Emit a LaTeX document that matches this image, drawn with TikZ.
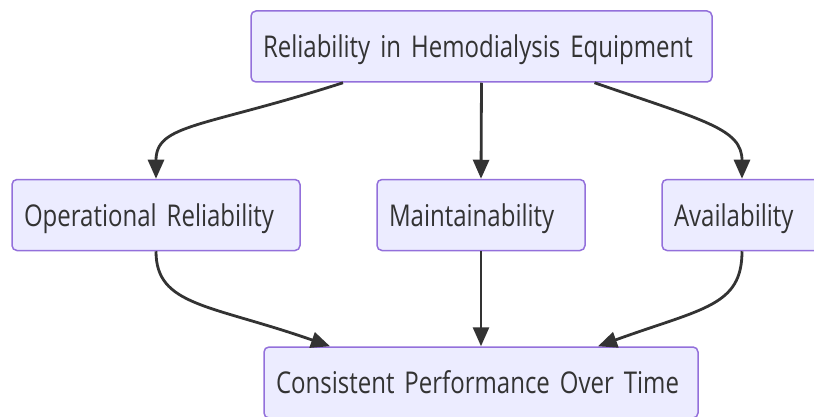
\documentclass[tikz,border=0pt]{standalone}
\usepackage{fontspec}
\setmainfont{Open Sans}[FakeStretch=0.8]
\usepackage{tikz}
\usetikzlibrary{arrows.meta, positioning, calc}
\definecolor{boxfill}{HTML}{ECECFF}
\definecolor{boxline}{HTML}{9370DB}
\definecolor{linkgray}{HTML}{333333}
\newcommand{\boxfont}{\fontsize{30}{34}\selectfont\spaceskip=6pt\relax}
\tikzset{
  blk/.style={rectangle, draw=boxline, fill=boxfill, line width=1.5pt, rounded corners=5pt,
    minimum height=71pt, inner sep=12pt, align=left, text=linkgray,
    text height=24pt, text depth=2pt, font=\boxfont},
  link/.style={-{Triangle[length=19pt,width=16pt]}, line width=2.8pt, linkgray}
}
\begin{document}
\begin{tikzpicture}[x=1pt, y=1pt]
  \useasboundingbox (0,0) rectangle (814,-417);
  \node[blk, minimum width=461pt, text width=437pt] (rel) at (481.5,-46.5) {Reliability in Hemodialysis Equipment};
  \node[blk, minimum width=288pt, text width=264pt] (opr) at (156,-215) {Operational Reliability};
  \node[blk, minimum width=208pt, text width=184pt] (mnt) at (481,-215) {Maintainability};
  \node[blk, minimum width=160pt, text width=136pt] (avl) at (742,-215) {Availability};
  \node[blk, minimum width=434pt, text width=410pt] (cpt) at (481,-382.5) {Consistent Performance Over Time};
  \draw[link] ([xshift=-138.5pt]rel.south) .. controls +(-140,-45) and +(0,55) .. (opr.north);
  \draw[link] (rel.south) -- (mnt.north);
  \draw[link] ([xshift=113pt]rel.south) .. controls +(110,-38) and +(0,50) .. (avl.north);
  \draw[link] (opr.south) .. controls +(0,-55) and +(-120,42) .. ([xshift=-151pt]cpt.north);
  \draw[link] (mnt.south) -- (cpt.north);
  \draw[link] (avl.south) .. controls +(0,-55) and +(105,38) .. ([xshift=117pt]cpt.north);
\end{tikzpicture}
\end{document}
